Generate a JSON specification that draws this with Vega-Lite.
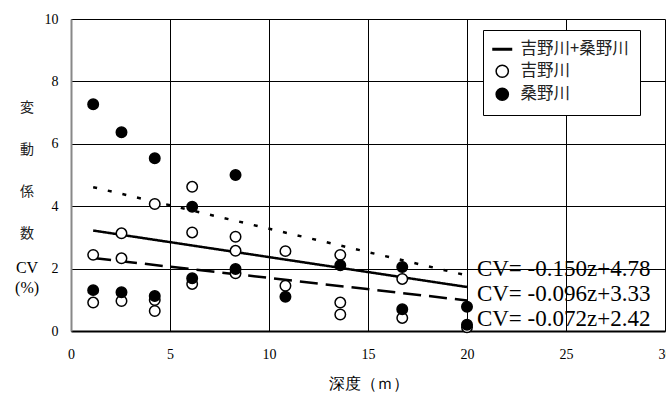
{
  "$schema": "https://vega.github.io/schema/vega-lite/v6.json",
  "width": 594,
  "height": 312,
  "autosize": {"type": "none"},
  "padding": {"left": 71, "top": 19, "right": 1, "bottom": 63},
  "background": "white",
  "config": {"view": {"stroke": null}, "font": "Liberation Serif"},
  "datasets": {
    "pts": [
      {"s": "吉野川", "z": 1.12, "cv": 2.44},
      {"s": "吉野川", "z": 1.12, "cv": 0.91},
      {"s": "吉野川", "z": 2.55, "cv": 3.13},
      {"s": "吉野川", "z": 2.55, "cv": 2.33},
      {"s": "吉野川", "z": 2.55, "cv": 0.96},
      {"s": "吉野川", "z": 4.23, "cv": 4.07},
      {"s": "吉野川", "z": 4.23, "cv": 0.99},
      {"s": "吉野川", "z": 4.23, "cv": 0.64},
      {"s": "吉野川", "z": 6.12, "cv": 4.62},
      {"s": "吉野川", "z": 6.12, "cv": 3.16},
      {"s": "吉野川", "z": 6.12, "cv": 1.51},
      {"s": "吉野川", "z": 8.31, "cv": 3.02},
      {"s": "吉野川", "z": 8.31, "cv": 2.57},
      {"s": "吉野川", "z": 8.31, "cv": 1.85},
      {"s": "吉野川", "z": 10.83, "cv": 2.56},
      {"s": "吉野川", "z": 10.83, "cv": 1.45},
      {"s": "吉野川", "z": 13.6, "cv": 2.44},
      {"s": "吉野川", "z": 13.6, "cv": 0.91},
      {"s": "吉野川", "z": 13.6, "cv": 0.53},
      {"s": "吉野川", "z": 16.73, "cv": 1.67},
      {"s": "吉野川", "z": 16.73, "cv": 0.42},
      {"s": "吉野川", "z": 20.0, "cv": 0.12},
      {"s": "桑野川", "z": 1.12, "cv": 7.27},
      {"s": "桑野川", "z": 1.12, "cv": 1.31},
      {"s": "桑野川", "z": 2.55, "cv": 6.37},
      {"s": "桑野川", "z": 2.55, "cv": 1.24},
      {"s": "桑野川", "z": 4.23, "cv": 5.54},
      {"s": "桑野川", "z": 4.23, "cv": 1.12},
      {"s": "桑野川", "z": 6.12, "cv": 3.98},
      {"s": "桑野川", "z": 6.12, "cv": 1.69},
      {"s": "桑野川", "z": 8.31, "cv": 5.0},
      {"s": "桑野川", "z": 8.31, "cv": 1.99},
      {"s": "桑野川", "z": 10.83, "cv": 1.1},
      {"s": "桑野川", "z": 13.6, "cv": 2.11},
      {"s": "桑野川", "z": 16.73, "cv": 2.05},
      {"s": "桑野川", "z": 16.73, "cv": 0.7},
      {"s": "桑野川", "z": 20.0, "cv": 0.78},
      {"s": "桑野川", "z": 20.0, "cv": 0.2}
    ],
    "fits": [
      {"fit": "all", "z": 1.12, "cv": 3.22},
      {"fit": "all", "z": 20.0, "cv": 1.41},
      {"fit": "kuwa", "z": 1.12, "cv": 4.61},
      {"fit": "kuwa", "z": 20.0, "cv": 1.78},
      {"fit": "yoshi", "z": 1.12, "cv": 2.34},
      {"fit": "yoshi", "z": 20.0, "cv": 0.98}
    ],
    "eqs": [
      {"z": 20.5, "cv": 1.99, "label": "CV= -0.150z+4.78"},
      {"z": 20.5, "cv": 1.2, "label": "CV= -0.096z+3.33"},
      {"z": 20.5, "cv": 0.4, "label": "CV= -0.072z+2.42"}
    ],
    "ytitle_kanji": [
      {"z": -2.22, "cv": 7.15, "t": "変"},
      {"z": -2.22, "cv": 5.8, "t": "動"},
      {"z": -2.22, "cv": 4.46, "t": "係"},
      {"z": -2.22, "cv": 3.11, "t": "数"}
    ],
    "ytitle_latin": [
      {"z": -2.22, "cv": 2.02, "t": "CV"},
      {"z": -2.22, "cv": 1.38, "t": "(%)"}
    ]
  },
  "layer": [
    {
      "data": {"name": "fits"},
      "mark": {"type": "line", "color": "black", "strokeWidth": 2.5},
      "encoding": {
        "x": {
          "field": "z", "type": "quantitative",
          "scale": {"domain": [0, 30], "nice": false},
          "axis": {
            "values": [0, 5, 10, 15, 20, 25, 30],
            "grid": true, "gridColor": "black", "gridWidth": 1,
            "domainColor": "black", "domainWidth": 2,
            "ticks": false,
            "labelFont": "Liberation Serif", "labelFontSize": 14, "labelColor": "black",
            "labelPadding": 16, "labelFlush": false, "labelOverlap": false,
            "title": "深度（ｍ）",
            "titleFont": "Liberation Serif", "titleFontSize": 16, "titleFontWeight": "normal",
            "titleColor": "black", "titleY": 52, "titleBaseline": "middle"
          }
        },
        "y": {
          "field": "cv", "type": "quantitative",
          "scale": {"domain": [0, 10], "nice": false},
          "axis": {
            "values": [0, 2, 4, 6, 8, 10],
            "grid": true, "gridColor": "black", "gridWidth": 1,
            "domainColor": "#888888", "domainWidth": 2,
            "ticks": false,
            "labelFont": "Liberation Serif", "labelFontSize": 14, "labelColor": "black",
            "labelPadding": 13,
            "title": null
          }
        },
        "strokeDash": {
          "field": "fit", "type": "nominal",
          "scale": {"domain": ["all", "kuwa", "yoshi"], "range": [[1, 0], [4, 11], [18, 8]]},
          "legend": null
        }
      }
    },
    {
      "data": {"name": "pts"},
      "mark": {"type": "point", "filled": false, "stroke": "black", "strokeWidth": 1.5, "size": 110, "opacity": 1},
      "encoding": {
        "x": {"field": "z", "type": "quantitative"},
        "y": {"field": "cv", "type": "quantitative"},
        "fill": {
          "field": "s", "type": "nominal",
          "scale": {"domain": ["吉野川+桑野川", "吉野川", "桑野川"], "range": ["black", "white", "black"]},
          "legend": {
            "title": null, "orient": "none", "legendX": 412, "legendY": 11,
            "strokeColor": "black", "fillColor": "white", "padding": 11, "cornerRadius": 0,
            "labelFont": "Noto Sans CJK JP", "labelFontSize": 16.5, "labelColor": "#222222",
            "labelOffset": 10, "rowPadding": 4,
            "symbolSize": 400, "symbolStrokeWidth": 1.5, "symbolStrokeColor": "black",
            "encoding": {"symbols": {
              "stroke": {"value": "black"},
              "opacity": {"value": 1},
              "size": {"value": {"expr": "datum.label === '吉野川+桑野川' ? 400 : 150"}},
              "strokeWidth": {"value": {"expr": "datum.label === '吉野川+桑野川' ? 3 : 1.5"}}
            }}
          }
        },
        "shape": {
          "field": "s", "type": "nominal",
          "scale": {"domain": ["吉野川+桑野川", "吉野川", "桑野川"], "range": ["stroke", "circle", "circle"]},
          "legend": {
            "title": null, "orient": "none", "legendX": 412, "legendY": 11,
            "strokeColor": "black", "fillColor": "white", "padding": 11, "cornerRadius": 0,
            "labelFont": "Noto Sans CJK JP", "labelFontSize": 16.5, "labelColor": "#222222",
            "labelOffset": 10, "rowPadding": 4,
            "symbolSize": 400, "symbolStrokeWidth": 1.5, "symbolStrokeColor": "black",
            "encoding": {"symbols": {
              "stroke": {"value": "black"},
              "opacity": {"value": 1},
              "size": {"value": {"expr": "datum.label === '吉野川+桑野川' ? 400 : 150"}},
              "strokeWidth": {"value": {"expr": "datum.label === '吉野川+桑野川' ? 3 : 1.5"}}
            }}
          }
        }
      }
    },
    {
      "data": {"name": "eqs"},
      "mark": {"type": "text", "font": "Liberation Serif", "fontSize": 23, "align": "left", "baseline": "middle", "color": "black"},
      "encoding": {
        "x": {"field": "z", "type": "quantitative"},
        "y": {"field": "cv", "type": "quantitative"},
        "text": {"field": "label"}
      }
    },
    {
      "data": {"name": "ytitle_kanji"},
      "mark": {"type": "text", "font": "Noto Sans CJK JP", "fontSize": 14, "align": "center", "baseline": "middle", "color": "#222222", "clip": false},
      "encoding": {
        "x": {"field": "z", "type": "quantitative"},
        "y": {"field": "cv", "type": "quantitative"},
        "text": {"field": "t"}
      }
    },
    {
      "data": {"name": "ytitle_latin"},
      "mark": {"type": "text", "font": "Liberation Serif", "fontSize": 16, "align": "center", "baseline": "middle", "color": "black", "clip": false},
      "encoding": {
        "x": {"field": "z", "type": "quantitative"},
        "y": {"field": "cv", "type": "quantitative"},
        "text": {"field": "t"}
      }
    }
  ]
}
